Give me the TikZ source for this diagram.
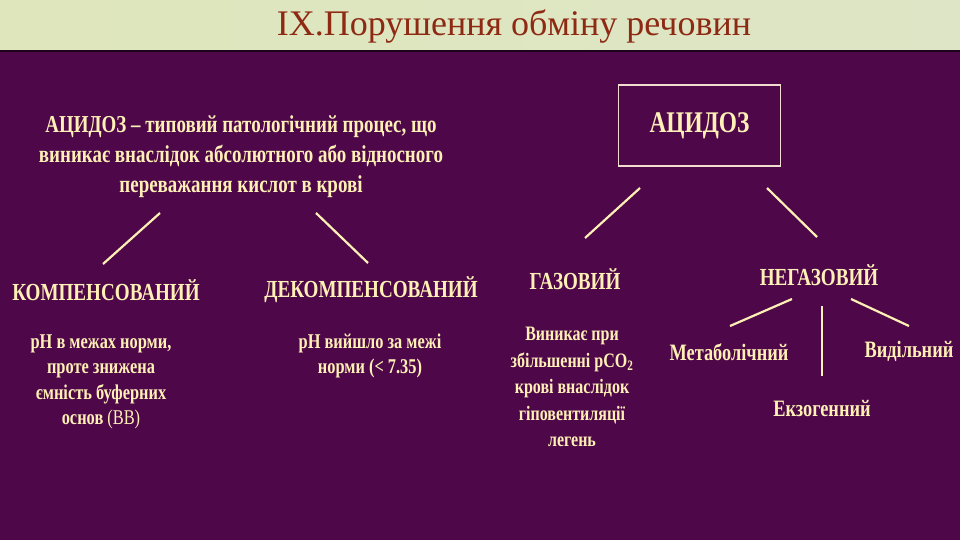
\documentclass[tikz,border=0pt]{standalone}
\usepackage{fontspec}
\setmainfont{Liberation Serif}
\newfontfamily\slidefont[FakeStretch=0.78]{Liberation Serif}

\definecolor{slideplum}{HTML}{4E0749}
\definecolor{paletop}{HTML}{DDE5C6}
\definecolor{titlered}{HTML}{8E2A14}
\definecolor{cream}{HTML}{FFF0B6}
\definecolor{boxline}{HTML}{F2DCCF}

\tikzset{
    heading/.style={text=cream, font=\slidefont\bfseries\fontsize{24.5}{30}\selectfont, inner sep=0pt},
    subhead/.style={text=cream, font=\slidefont\bfseries\fontsize{23.5}{28}\selectfont, inner sep=0pt},
    note/.style={text=cream, font=\slidefont\bfseries\fontsize{21}{25.5}\selectfont, align=center, inner sep=0pt},
    link/.style={draw=cream, line width=2.2pt}
}

\begin{document}
\begin{tikzpicture}[x=1pt,y=-1pt]
    % Slide background
    \useasboundingbox (0,0) rectangle (960,540);
    \fill[slideplum] (0,0) rectangle (960,540);
    \shade[left color=paletop!95!yellow, middle color=paletop!60!white, right color=paletop] (0,0) rectangle (960,50);
    \fill[black!60!slideplum] (0,50) rectangle (960,52);

    % Title
    \node[text=titlered, font=\fontsize{36}{38}\selectfont, inner sep=0pt] (title) at (514,27) {IX.Порушення обміну речовин};

    % Left branch: definition and its two kinds
    \node[note, font=\slidefont\bfseries\fontsize{24.3}{30}\selectfont] (defn) at (241,157)
        {АЦИДОЗ – типовий патологічний процес, що\\виникає внаслідок абсолютного або відносного\\переважання кислот в крові};
    \node[heading] (komp) at (106,290) {КОМПЕНСОВАНИЙ};
    \node[heading] (dekomp) at (371,290) {ДЕКОМПЕНСОВАНИЙ};
    \node[note] (kompnote) at (101,382)
        {pH в межах норми,\\проте знижена\\ємність буферних\\основ {\mdseries(ВВ)}};
    \node[note] (dekompnote) at (370,356) {pH вийшло за межі\\норми (< 7.35)};

    \coordinate (dl1) at (160,213);
    \coordinate (dl2) at (103,264);
    \coordinate (dr1) at (316,213);
    \coordinate (dr2) at (368,263);
    \draw[link] (dl1) -- (dl2);
    \draw[link] (dr1) -- (dr2);

    % Right branch: boxed term and its classification
    \node[draw=boxline, line width=1.6pt, minimum width=162pt, minimum height=81pt,
          text=cream, font=\slidefont\bfseries\fontsize{30}{34}\selectfont] (acid) at (699.5,125.5) {АЦИДОЗ};
    \node[heading] (gas) at (575,279) {ГАЗОВИЙ};
    \node[heading] (nongas) at (819,275) {НЕГАЗОВИЙ};
    \node[note, font=\slidefont\bfseries\fontsize{20.5}{26.5}\selectfont] (gasnote) at (572,387)
        {Виникає при\\збільшенні pCO\textsubscript{2}\\крові внаслідок\\гіповентиляції\\легень};
    \node[subhead] (metab) at (729,352) {Метаболічний};
    \node[subhead] (excr) at (909,351) {Видільний};
    \node[subhead] (exo) at (822,409) {Екзогенний};

    \coordinate (al1) at (640,188);
    \coordinate (al2) at (585,238);
    \coordinate (ar1) at (767,188);
    \coordinate (ar2) at (817,237);
    \draw[link] (al1) -- (al2);
    \draw[link] (ar1) -- (ar2);

    \coordinate (nl1) at (792,299);
    \coordinate (nl2) at (730,326);
    \coordinate (nm1) at (822,306);
    \coordinate (nm2) at (822,376);
    \coordinate (nr1) at (851,299);
    \coordinate (nr2) at (909,326);
    \draw[link] (nl1) -- (nl2);
    \draw[link] (nm1) -- (nm2);
    \draw[link] (nr1) -- (nr2);
\end{tikzpicture}
\end{document}
